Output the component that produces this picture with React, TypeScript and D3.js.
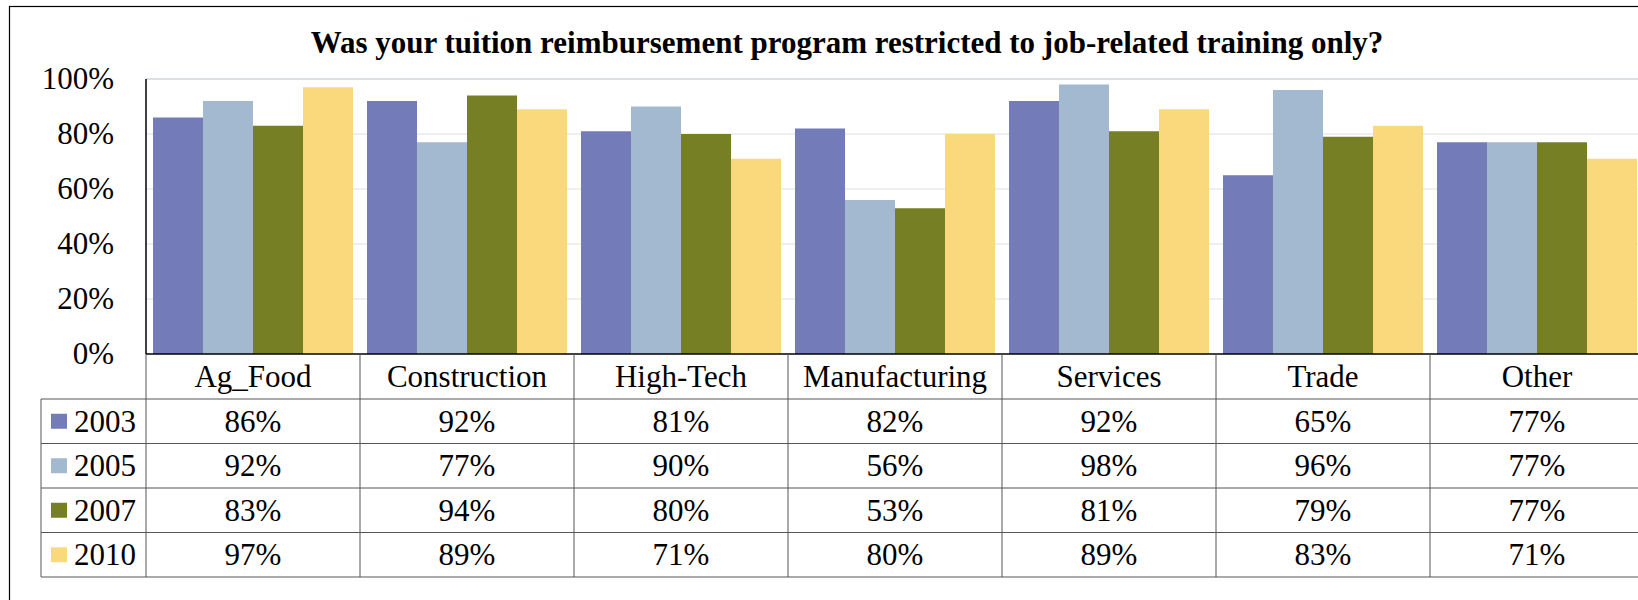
import * as React from 'react'
import * as d3 from 'd3'

const width = 1638
const height = 600
const font = '"Liberation Serif", "Times New Roman", serif'

const categories = ['Ag_Food', 'Construction', 'High-Tech', 'Manufacturing', 'Services', 'Trade', 'Other']
const years = ['2003', '2005', '2007', '2010']
const v2003 = [86, 92, 81, 82, 92, 65, 77]
const v2005 = [92, 77, 90, 56, 98, 96, 77]
const v2007 = [83, 94, 80, 53, 81, 79, 77]
const v2010 = [97, 89, 71, 80, 89, 83, 71]
const yTicks = [0, 20, 40, 60, 80, 100]
const colors = ['#737cb8', '#a2b9cf', '#777f25', '#fad97d']

const series = [v2003, v2005, v2007, v2010]

const plot = { left: 146, right: 1644, top: 79, bottom: 354 }
const headerBottom = 399
const rowH = 44.5
const legendLeft = 41

const App = () => {
  const x0 = d3.scaleBand().domain(categories).range([plot.left, plot.right]).paddingInner(0)
  const x1 = d3.scaleBand().domain(years).range([0, x0.bandwidth()]).paddingInner(0).paddingOuter(0.14)
  const y = d3.scaleLinear().domain([0, 100]).range([plot.bottom, plot.top])

  const rowY = (i: number) => headerBottom + i * rowH
  const tableBottom = rowY(years.length)

  return (
    <svg width={width} height={height} style={{ position: 'absolute', left: 0, top: 0 }} fontFamily={font}>
      <rect x={0} y={0} width={width} height={height} fill="#fff" />
      <rect x={9.5} y={6.5} width={1720} height={700} fill="none" stroke="#000" strokeWidth={1.2} />

      <text x={847} y={52.5} textAnchor="middle" fontSize={31} fontWeight="bold">
        Was your tuition reimbursement program restricted to job-related training only?
      </text>

      {/* gridlines */}
      {yTicks.filter(t => t > 0).map(t => (
        <line key={t} x1={plot.left} x2={width} y1={y(t)} y2={y(t)} stroke="#dcdfe3" strokeWidth={t === 100 ? 2 : 1.2} />
      ))}
      {yTicks.map(t => (
        <text key={t} x={114} y={y(t) + 10} textAnchor="end" fontSize={31}>{t}%</text>
      ))}

      {/* bars */}
      {categories.map((c, ci) => (
        <g key={c} transform={`translate(${x0(c)},0)`}>
          {years.map((yr, si) => (
            <rect
              key={yr}
              x={x1(yr)}
              y={y(series[si][ci])}
              width={x1.bandwidth()}
              height={plot.bottom - y(series[si][ci])}
              fill={colors[si]}
            />
          ))}
        </g>
      ))}

      {/* axes */}
      <line x1={plot.left} x2={plot.left} y1={plot.top} y2={plot.bottom} stroke="#000" strokeWidth={1.5} />
      <line x1={plot.left} x2={width} y1={plot.bottom} y2={plot.bottom} stroke="#000" strokeWidth={1.5} />

      {/* data table */}
      {categories.map(c => (
        <line key={c} x1={x0(c)} x2={x0(c)} y1={plot.bottom} y2={tableBottom} stroke="#555" />
      ))}
      <line x1={legendLeft} x2={legendLeft} y1={headerBottom} y2={tableBottom} stroke="#555" />
      {d3.range(years.length + 1).map(i => (
        <line key={i} x1={legendLeft} x2={width} y1={rowY(i)} y2={rowY(i)} stroke="#555" />
      ))}
      {categories.map(c => (
        <text key={c} x={x0(c) + x0.bandwidth() / 2} y={(plot.bottom + headerBottom) / 2 + 10.5} textAnchor="middle" fontSize={31}>
          {c}
        </text>
      ))}
      {years.map((yr, si) => {
        const cy = rowY(si) + rowH / 2
        return (
          <g key={yr}>
            <rect x={51} y={cy - 7.5} width={16} height={15} fill={colors[si]} />
            <text x={74} y={cy + 10.5} fontSize={31}>{yr}</text>
            {categories.map((c, ci) => (
              <text key={c} x={x0(c) + x0.bandwidth() / 2} y={cy + 10.5} textAnchor="middle" fontSize={31}>
                {series[si][ci]}%
              </text>
            ))}
          </g>
        )
      })}
    </svg>
  )
}

export default App
